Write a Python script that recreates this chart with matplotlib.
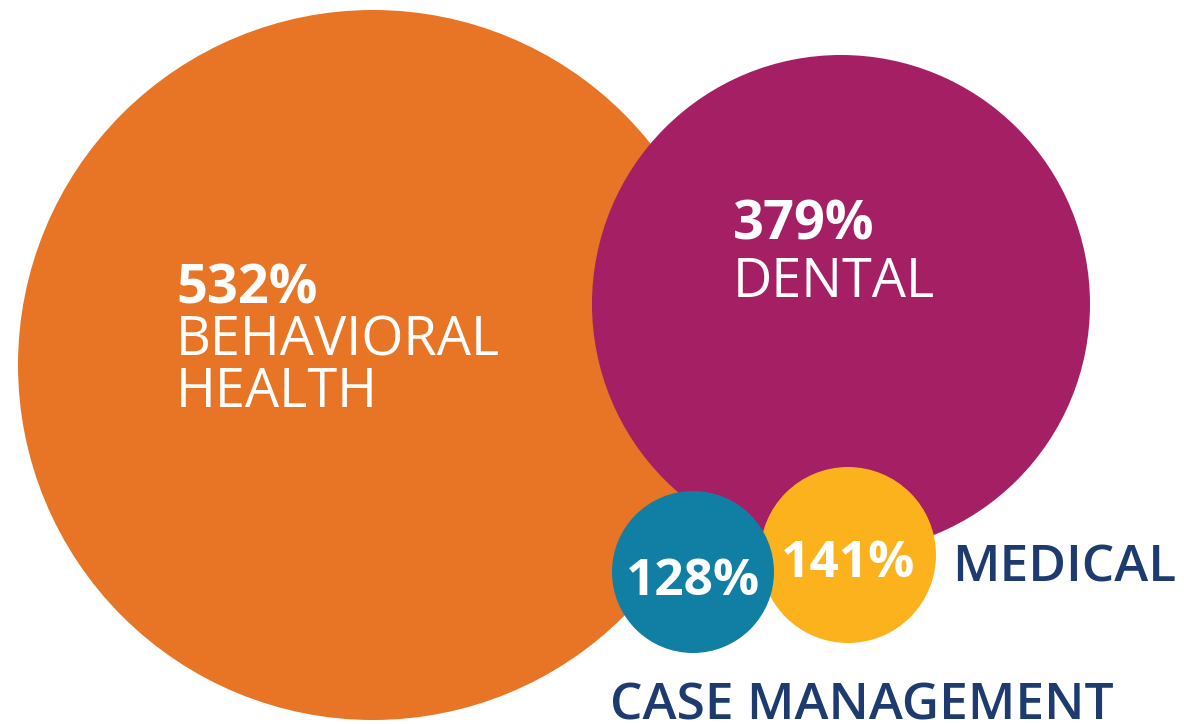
import matplotlib.pyplot as plt
from matplotlib.patches import Circle

# data
categories = ["BEHAVIORAL\nHEALTH", "DENTAL", "CASE MANAGEMENT", "MEDICAL"]
values = [532, 379, 128, 141]
colors = ["#E87425", "#A41F64", "#117FA4", "#FBB21C"]

# layout (pixel coords, y down): circle centre x, y, radius
circles = [(373, 365, 355), (841, 304, 249), (848, 555, 88), (693, 572, 81)]

W, H = 1184, 724
fig = plt.figure(figsize=(W / 100, H / 100), dpi=100)
ax = fig.add_axes([0, 0, 1, 1])
ax.set_xlim(0, W)
ax.set_ylim(H, 0)
ax.set_aspect("equal")
ax.axis("off")

# orange, purple, yellow, teal (teal sits on top of yellow)
order = [0, 1, 3, 2]
for i, (cx, cy, r) in zip(order, circles):
    ax.add_patch(Circle((cx, cy), r, facecolor=colors[i], edgecolor="none", zorder=1 + order.index(i)))

fam = ["Open Sans", "DejaVu Sans"]
navy = "#1D3B6F"
fs = 37
big = 39

# behavioral health
ax.text(176, 303, f"{values[0]}%", color="white", fontsize=big, fontweight="bold", family=fam, va="baseline", zorder=10)
ax.text(176, 355, categories[0].split("\n")[0], color="white", fontsize=big, family=fam, va="baseline", zorder=10)
ax.text(176, 407, categories[0].split("\n")[1], color="white", fontsize=big, family=fam, va="baseline", zorder=10)

# dental
ax.text(733, 240, f"{values[1]}%", color="white", fontsize=big, fontweight="bold", family=fam, va="baseline", zorder=10)
ax.text(733, 297, categories[1], color="white", fontsize=big, family=fam, va="baseline", zorder=10)

# case management
ax.text(693, 595, f"{values[2]}%", color="white", fontsize=fs, fontweight="bold", family=fam, ha="center", va="baseline", zorder=10)
ax.text(610, 719, categories[2], color=navy, fontsize=fs, family=fam, fontweight="semibold", va="baseline", zorder=10)

# medical
ax.text(848, 577, f"{values[3]}%", color="white", fontsize=fs, fontweight="bold", family=fam, ha="center", va="baseline", zorder=10)
ax.text(952, 581, categories[3], color=navy, fontsize=fs, family=fam, fontweight="semibold", va="baseline", zorder=10)

plt.savefig("out.png", dpi=100)
